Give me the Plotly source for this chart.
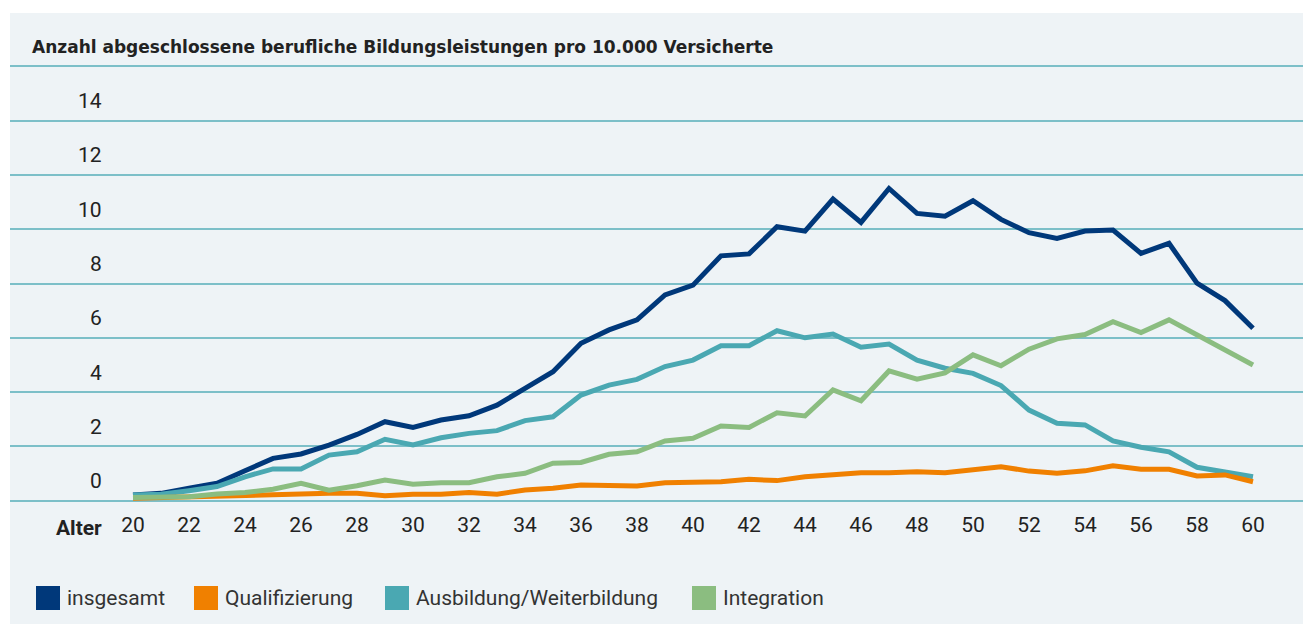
import plotly.graph_objects as go

# ---------------- data ----------------
ages = list(range(20, 61))
insgesamt = [0.21, 0.27, 0.46, 0.64, 1.10, 1.56, 1.72, 2.05, 2.44, 2.91,
             2.70, 2.97, 3.13, 3.52, 4.14, 4.75, 5.80, 6.29, 6.66, 7.58,
             7.94, 9.02, 9.09, 10.09, 9.93, 11.11, 10.25, 11.50, 10.58, 10.48,
             11.05, 10.36, 9.87, 9.66, 9.93, 9.97, 9.11, 9.48, 8.01, 7.37, 6.35]
qualifizierung = [0.09, 0.12, 0.15, 0.15, 0.17, 0.24, 0.27, 0.27, 0.27, 0.18,
                  0.24, 0.24, 0.30, 0.24, 0.39, 0.46, 0.58, 0.54, 0.54, 0.66,
                  0.66, 0.70, 0.79, 0.74, 0.88, 0.97, 1.03, 1.03, 1.07, 1.03,
                  1.13, 1.25, 1.09, 1.01, 1.10, 1.29, 1.16, 1.16, 0.91, 0.95, 0.70]
ausbildung = [0.21, 0.24, 0.37, 0.52, 0.88, 1.17, 1.17, 1.68, 1.80, 2.26,
              2.05, 2.32, 2.48, 2.58, 2.95, 3.09, 3.89, 4.26, 4.47, 4.94,
              5.18, 5.71, 5.71, 6.26, 6.00, 6.14, 5.65, 5.77, 5.18, 4.88,
              4.69, 4.24, 3.34, 2.85, 2.79, 2.20, 1.97, 1.80, 1.23, 1.07, 0.88]
integration = [0.12, 0.12, 0.15, 0.25, 0.30, 0.42, 0.64, 0.39, 0.55, 0.76,
               0.61, 0.66, 0.66, 0.88, 1.01, 1.38, 1.41, 1.71, 1.80, 2.20,
               2.30, 2.75, 2.70, 3.24, 3.12, 4.08, 3.68, 4.78, 4.48, 4.71,
               5.37, 4.97, 5.58, 5.96, 6.12, 6.59, 6.19, 6.66, 6.10, 5.55, 5.00]

series_names = ["insgesamt", "Qualifizierung", "Ausbildung/Weiterbildung", "Integration"]
x_tickvals = list(range(20, 61, 2))
x_ticktext = [str(v) for v in x_tickvals]
y_gridvals = list(range(0, 17, 2))
y_labelvals = list(range(0, 15, 2))
title_text = "Anzahl abgeschlossene berufliche Bildungsleistungen pro 10.000 Versicherte"
x_axis_label = "Alter"

# ---------------- style ----------------
VW, VH = 1311, 624                      # browser viewport
OFF = 8                                 # default body margin of the html page
W, H = VW - OFF, VH - OFF               # figure size
L, R, T, B = 10, 1311, 13, 510          # plot area in viewport pixels
Y0_PIX, PX_PER_UNIT = 500.7, 27.15      # y pixel of value 0, pixels per unit
X20_PIX, PX_PER_YEAR = 133.0, 28.0
FONT = "Roboto"
TITLE_FONT = "DejaVu Sans"
TXT = "#222222"
BG = "#eef3f6"
GRID = "#7cbfc8"
COLORS = {"insgesamt": "#00387a", "Qualifizierung": "#f08000",
          "Ausbildung/Weiterbildung": "#4aa8b2", "Integration": "#8bbd80"}


def pxx(p):
    return (p - L) / (R - L)


def pxy(p):
    return (B - p) / (B - T)


y_range = [(Y0_PIX - B) / PX_PER_UNIT, (Y0_PIX - T) / PX_PER_UNIT]
x_range = [20 - (X20_PIX - L) / PX_PER_YEAR, 20 + (R - X20_PIX) / PX_PER_YEAR]

fig = go.Figure()
values = {"insgesamt": insgesamt, "Qualifizierung": qualifizierung,
          "Ausbildung/Weiterbildung": ausbildung, "Integration": integration}
for name in ["insgesamt", "Ausbildung/Weiterbildung", "Qualifizierung", "Integration"]:
    fig.add_trace(go.Scatter(x=ages, y=values[name], mode="lines", name=name,
                             line=dict(color=COLORS[name], width=5),
                             showlegend=False, hoverinfo="x+y+name"))

shapes = [dict(type="rect", xref="paper", yref="paper", x0=0, x1=1,
               y0=pxy(VH + 5), y1=1, fillcolor=BG, line=dict(width=0), layer="below")]
annotations = [
    dict(text="<b>" + title_text + "</b>", xref="paper", yref="paper",
         x=pxx(30), y=pxy(47), xanchor="left", yanchor="middle", showarrow=False,
         font=dict(family=TITLE_FONT, size=17, color=TXT)),
    dict(text="<b>" + x_axis_label + "</b>", xref="paper", yref="paper",
         x=pxx(104), y=pxy(528), xanchor="right", yanchor="middle", showarrow=False,
         font=dict(family=FONT, size=21, color=TXT)),
]
for v in y_labelvals:
    annotations.append(dict(text=str(v), xref="paper", yref="y", x=pxx(104), y=v + 0.72,
                            xanchor="right", yanchor="middle", showarrow=False,
                            font=dict(family=FONT, size=21, color=TXT)))

# manual legend with square swatches
legend_x = [36, 194, 385, 692]
for name, lx in zip(series_names, legend_x):
    shapes.append(dict(type="rect", xref="paper", yref="paper",
                       x0=pxx(lx), x1=pxx(lx + 24), y0=pxy(610), y1=pxy(586),
                       fillcolor=COLORS[name], line=dict(width=0)))
    annotations.append(dict(text=name, xref="paper", yref="paper", x=pxx(lx + 29), y=pxy(598),
                            xanchor="left", yanchor="middle", showarrow=False,
                            font=dict(family=FONT, size=21, color="#333333")))

fig.update_layout(
    width=W, height=H,
    margin=dict(l=L - OFF, r=VW - R, t=T - OFF, b=VH - B, pad=0),
    paper_bgcolor="white", plot_bgcolor="rgba(0,0,0,0)",
    font=dict(family=FONT, size=21, color=TXT),
    showlegend=False,
    shapes=shapes, annotations=annotations,
    xaxis=dict(range=x_range, tickvals=x_tickvals, ticktext=x_ticktext,
               showgrid=False, zeroline=False, showline=False, ticks="",
               tickfont=dict(family=FONT, size=21, color=TXT), fixedrange=True),
    yaxis=dict(range=y_range, tickvals=y_gridvals, showticklabels=False,
               showgrid=True, gridcolor=GRID, gridwidth=1.5, zeroline=False,
               showline=False, ticks="", fixedrange=True),
)

fig.write_html("out.html")
